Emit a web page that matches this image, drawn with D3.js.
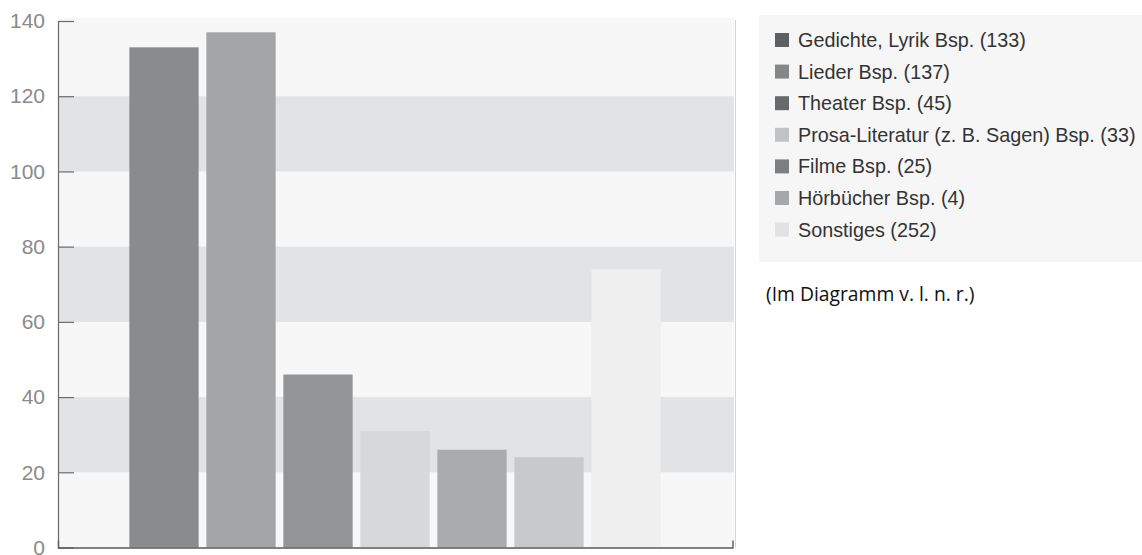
<!DOCTYPE html>
<html>
<head>
<meta charset="utf-8">
<script src="https://cdn.jsdelivr.net/npm/d3@7"></script>
<style>
  html, body { margin: 0; padding: 0; background: #ffffff; }
  svg { display: block; }
</style>
</head>
<body>
<svg id="chart" width="1142" height="555"></svg>
<script>
// Bar categories (left to right) and their heights
const categories = ["Gedichte, Lyrik", "Lieder", "Theater", "Prosa-Literatur", "Filme", "Hörbücher", "Sonstiges"];
const values = [133, 137, 46, 31, 26, 24, 74];
const barColors = ["#8a8b8d", "#a4a5a7", "#939496", "#d7d8da", "#aaabad", "#c8c9cb", "#efefef"];

// Legend entries
const legendLabels = [
  "Gedichte, Lyrik Bsp. (133)",
  "Lieder Bsp. (137)",
  "Theater Bsp. (45)",
  "Prosa-Literatur (z. B. Sagen) Bsp. (33)",
  "Filme Bsp. (25)",
  "Hörbücher Bsp. (4)",
  "Sonstiges (252)"
];
const legendColors = ["#5f6061", "#858687", "#68696a", "#c2c3c4", "#7d7e7f", "#a6a7a8", "#e1e2e3"];

// Y-axis ticks and the shaded horizontal bands
const yTicks = [0, 20, 40, 60, 80, 100, 120, 140];
const shadedBands = [[20, 40], [60, 80], [100, 120]];

const note = "(Im Diagramm v. l. n. r.)";

const svg = d3.select("#chart");

const plot = { left: 58, right: 734, top: 21, bottom: 547.5 };

const y = d3.scaleLinear().domain([0, 140]).range([plot.bottom, plot.top]);
const x = d3.scaleBand()
  .domain(categories)
  .range([125.5, 664.5])
  .paddingInner(0.1)
  .paddingOuter(0.05);

// Plot background
svg.append("rect")
  .attr("x", plot.left)
  .attr("y", 18)
  .attr("width", plot.right - plot.left)
  .attr("height", plot.bottom - 18)
  .attr("fill", "#f7f7f7");

svg.append("g").selectAll("rect")
  .data(shadedBands)
  .join("rect")
  .attr("x", plot.left)
  .attr("width", plot.right - plot.left)
  .attr("y", d => y(d[1]))
  .attr("height", d => y(d[0]) - y(d[1]))
  .attr("fill", "#e2e3e5");

// Thin right border of the plot
svg.append("line")
  .attr("x1", plot.right + 1.5).attr("x2", plot.right + 1.5)
  .attr("y1", 20).attr("y2", plot.bottom)
  .attr("stroke", "#d4d4d4")
  .attr("stroke-width", 1);

// Bars
svg.append("g").selectAll("rect")
  .data(values)
  .join("rect")
  .attr("x", (d, i) => x(categories[i]))
  .attr("width", x.bandwidth())
  .attr("y", d => y(d))
  .attr("height", d => y(0) - y(d))
  .attr("fill", (d, i) => barColors[i]);

// Y axis (ticks point into the plot)
const yAxis = svg.append("g")
  .attr("transform", `translate(${plot.left},0)`)
  .call(d3.axisLeft(y).tickValues(yTicks).tickSize(-16).tickSizeOuter(0).tickPadding(13));
yAxis.select(".domain").attr("stroke", "#6a6a6a").attr("stroke-width", 1.2);
yAxis.selectAll(".tick line").attr("stroke", "#6a6a6a").attr("stroke-width", 1.2);
yAxis.selectAll(".tick text")
  .attr("fill", "#8a8a8a")
  .style("font-family", "'Liberation Sans', Arial, sans-serif")
  .style("font-size", "21px");

// X axis baseline with a short upward end tick
const xAxis = svg.append("g")
  .attr("transform", `translate(0,${plot.bottom})`)
  .call(d3.axisBottom(d3.scaleLinear().domain([0, 1]).range([plot.left, plot.right - 1.5]))
    .tickValues([]).tickSizeOuter(-7));
xAxis.select(".domain").attr("stroke", "#5a5a5a").attr("stroke-width", 1.4).attr("fill", "none");

// Legend box
svg.append("rect")
  .attr("x", 759).attr("y", 15)
  .attr("width", 1142 - 759).attr("height", 262 - 15)
  .attr("fill", "#f6f6f6");

const legend = svg.append("g").selectAll("g")
  .data(legendLabels)
  .join("g")
  .attr("transform", (d, i) => `translate(775,${40 + i * 31.6})`);

legend.append("rect")
  .attr("x", 0).attr("y", -7)
  .attr("width", 14).attr("height", 14)
  .attr("fill", (d, i) => legendColors[i]);

legend.append("text")
  .attr("x", 23)
  .attr("dy", "0.35em")
  .attr("fill", "#333333")
  .style("font-family", "'Liberation Sans', Arial, sans-serif")
  .style("font-size", "19.8px")
  .text(d => d);

// Note beneath the legend
svg.append("text")
  .attr("x", 766)
  .attr("y", 294)
  .attr("dy", "0.35em")
  .attr("fill", "#111111")
  .style("font-family", "'Open Sans', 'Noto Sans', sans-serif")
  .style("font-size", "19.3px")
  .text(note);
</script>
</body>
</html>
